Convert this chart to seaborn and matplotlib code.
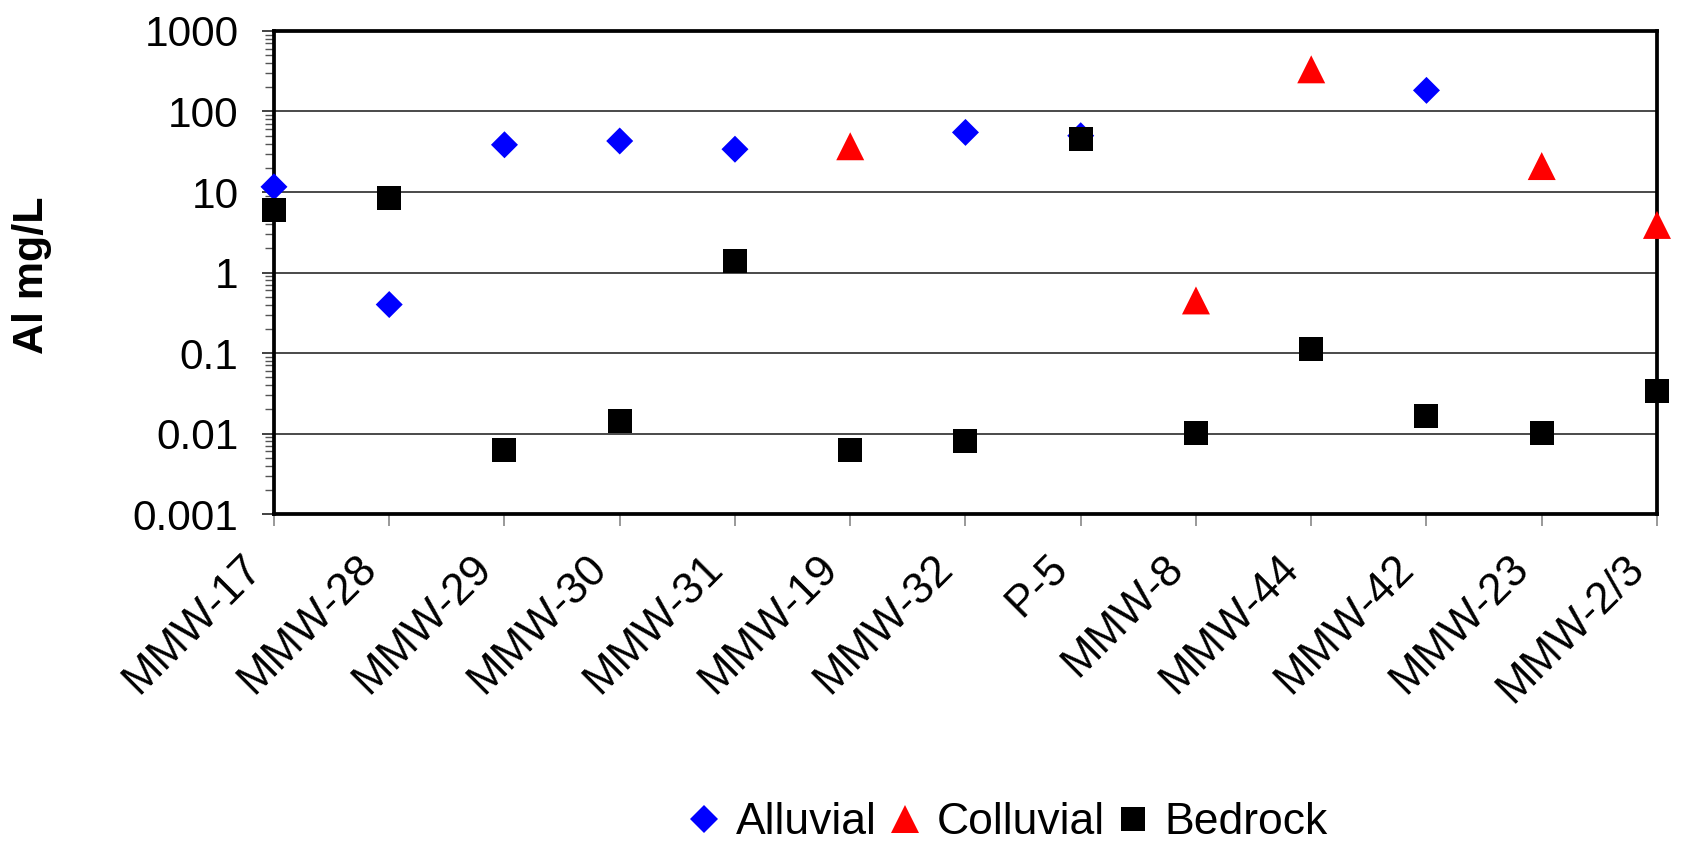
import numpy as np
import pandas as pd
import seaborn as sns
import matplotlib
matplotlib.use("Agg")
import matplotlib.pyplot as plt
from matplotlib.ticker import LogLocator, NullFormatter
from matplotlib.transforms import ScaledTranslation

# Sampling wells along the x axis
categories = ["MMW-17", "MMW-28", "MMW-29", "MMW-30", "MMW-31", "MMW-19", "MMW-32",
              "P-5", "MMW-8", "MMW-44", "MMW-42", "MMW-23", "MMW-2/3"]

# Dissolved aluminium (mg/L) per aquifer unit; NaN = no sample
alluvial = [11.6, 0.40, 38.6, 43, 34, np.nan, 55, 50, np.nan, np.nan, 183, np.nan, np.nan]
colluvial = [np.nan, np.nan, np.nan, np.nan, np.nan, 37, np.nan, np.nan, 0.45, 334, np.nan, 21, 3.9]
bedrock = [6.0, 8.5, 0.0062, 0.0144, 1.40, 0.0063, 0.008, 46, 0.0102, 0.113, 0.0165, 0.0102, 0.034]

series_names = ["Alluvial", "Colluvial", "Bedrock"]
series_values = [alluvial, colluvial, bedrock]

y_ticks = [0.001, 0.01, 0.1, 1, 10, 100, 1000]
y_tick_labels = ["0.001", "0.01", "0.1", "1", "10", "100", "1000"]

# Long-form table for seaborn
rows = []
for name, vals in zip(series_names, series_values):
    for i, (cat, v) in enumerate(zip(categories, vals)):
        if not np.isnan(v):
            rows.append({"pos": i, "Well": cat, "Aquifer": name, "Al": v})
df = pd.DataFrame(rows)

sns.set_theme(style="ticks")
plt.rcParams["font.family"] = ["Liberation Sans", "DejaVu Sans"]
plt.rcParams["text.color"] = "black"
plt.rcParams["axes.labelcolor"] = "black"
plt.rcParams["xtick.labelcolor"] = "black"
plt.rcParams["ytick.labelcolor"] = "black"

fig = plt.figure(figsize=(16.87, 8.42), dpi=100)
ax = fig.add_axes([0.1624, 0.3895, 0.8198, 0.5737])

palette = {"Alluvial": "#0000FF", "Colluvial": "#FF0000", "Bedrock": "#000000"}
markers = {"Alluvial": "D", "Colluvial": "^", "Bedrock": "s"}
sizes = {"Alluvial": 189, "Colluvial": 406, "Bedrock": 299}

sns.scatterplot(data=df, x="pos", y="Al", hue="Aquifer", style="Aquifer", size="Aquifer",
                palette=palette, markers=markers, sizes=sizes,
                hue_order=series_names, style_order=series_names, size_order=series_names,
                linewidth=0, ax=ax, legend="full")
for coll in ax.collections:
    coll.set_clip_on(False)
    coll.set_zorder(4)

ax.set_yscale("log")
ax.set_ylim(0.001, 1000)
ax.set_xlim(0, len(categories) - 1)

ax.set_yticks(y_ticks)
ax.set_yticklabels(y_tick_labels)
ax.yaxis.set_minor_locator(LogLocator(base=10, subs=np.arange(2, 10), numticks=20))
ax.yaxis.set_minor_formatter(NullFormatter())

ax.set_xticks(range(len(categories)))
ax.set_xticklabels(categories, rotation=45, ha="right", va="center", rotation_mode="anchor")

ax.tick_params(axis="y", which="major", length=8.5, width=1.3, color="#333333",
               labelsize=30.5, pad=17, direction="out")
ax.tick_params(axis="y", which="minor", length=6.5, width=1.0, color="#555555", direction="out")
ax.tick_params(axis="x", which="major", length=8.5, width=1.2, color="#888888",
               labelsize=31.5, pad=0, direction="out")

ax.yaxis.grid(True, which="major", color="#3a3a3a", linewidth=1.3)
ax.xaxis.grid(False)
ax.set_axisbelow(True)

for sp in ax.spines.values():
    sp.set_visible(True)
    sp.set_color("black")
    sp.set_linewidth(2.7)

ax.set_xlabel("")
ax.set_ylabel("Al mg/L", fontsize=31, fontweight="bold")
ax.yaxis.set_label_coords(-0.1605, 0.495)

sns.move_legend(ax, loc="center", bbox_to_anchor=(0.597, 0.0226),
                bbox_transform=fig.transFigure, ncol=3, frameon=False, title=None,
                fontsize=32, handlelength=0.8, handletextpad=0.3, columnspacing=0.25,
                borderpad=0.1)

# anchor the end of each well name slightly left of and below its tick
shift = ScaledTranslation(-19 / 100, -36 / 100, fig.dpi_scale_trans)
for lbl in ax.get_xticklabels():
    lbl.set_transform(lbl.get_transform() + shift)

fig.savefig("out.png", dpi=100)
